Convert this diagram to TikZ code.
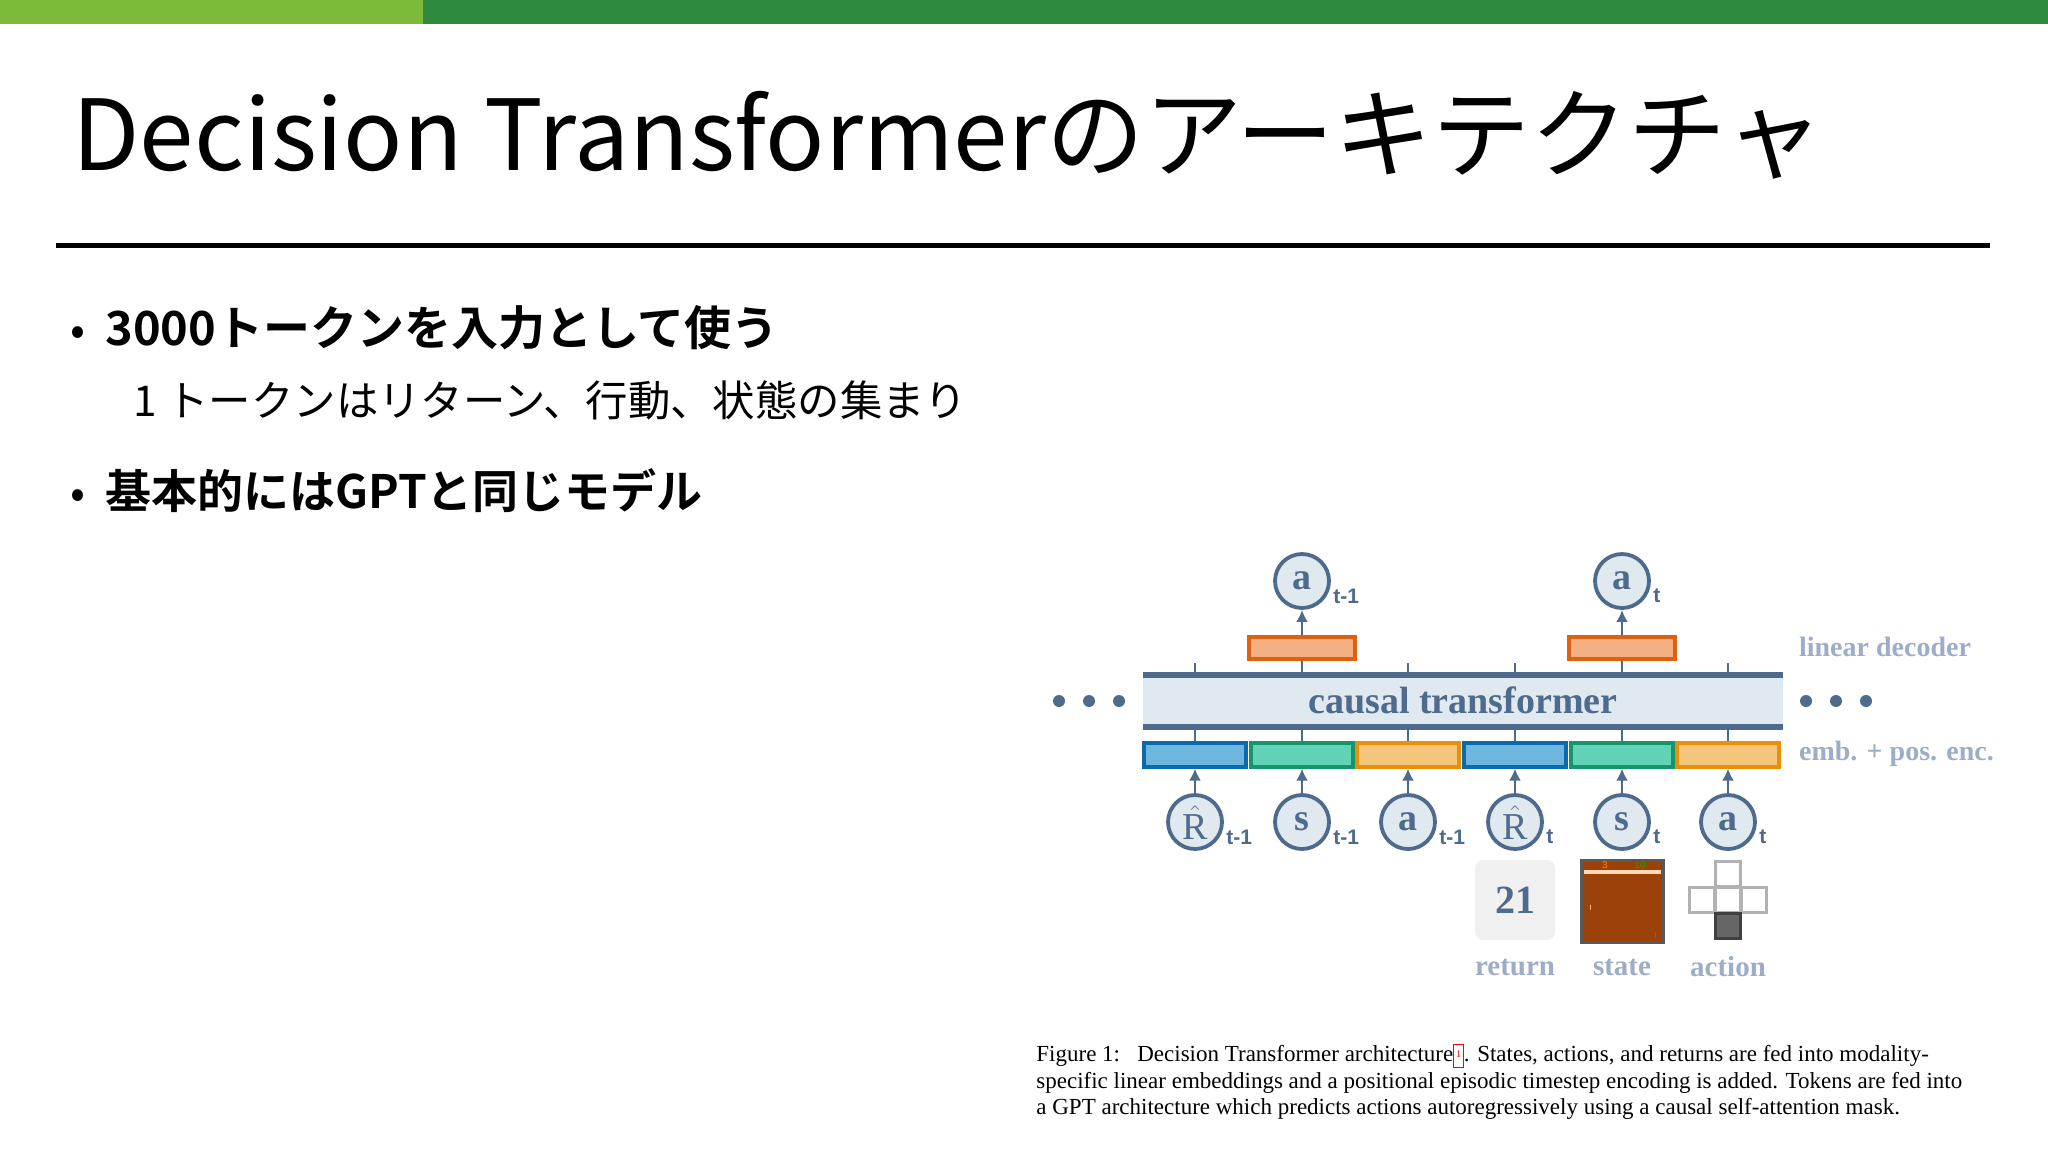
\documentclass[tikz,border=0pt]{standalone}
\usepackage{fontspec}
\setmainfont{Liberation Serif}
\newfontfamily\jp[BoldFont={Noto Sans CJK JP Bold}]{Noto Sans CJK JP}
\newfontfamily\subf{Liberation Sans}
\usetikzlibrary{arrows.meta}
\definecolor{lgreen}{HTML}{7DB93A}
\definecolor{dgreen}{HTML}{2E8B3E}
\definecolor{navy}{HTML}{4E6A8C}
\definecolor{tfill}{HTML}{E0E8F0}
\definecolor{lbl}{HTML}{9DADC8}
\definecolor{brn}{HTML}{9A420A}
\definecolor{bfill}{HTML}{6DB6DE}\definecolor{bdraw}{HTML}{0B6AAB}
\definecolor{gfill}{HTML}{62D2B6}\definecolor{gdraw}{HTML}{16956A}
\definecolor{ofill}{HTML}{F4C67C}\definecolor{odraw}{HTML}{E8900A}
\definecolor{rfill}{HTML}{F2B083}\definecolor{rdraw}{HTML}{E0600F}
\tikzset{
 circ/.style={circle,draw=navy,fill=tfill,line width=1.9pt,minimum size=27pt,inner sep=0pt,text=navy,font=\bfseries\fontsize{19}{19}\selectfont},
 sub/.style={text=navy,font=\subf\bfseries\fontsize{10.5}{10.5}\selectfont,anchor=west,inner sep=0pt},
 emb/.style={draw=#1draw,fill=#1fill,line width=1.6pt,minimum width=51pt,minimum height=12pt,inner sep=0pt},
 dec/.style={draw=rdraw,fill=rfill,line width=1.6pt,minimum width=53pt,minimum height=11pt,inner sep=0pt},
 arr/.style={navy,line width=1.4pt,-{Latex[length=6pt,width=6pt]}},
 tick/.style={navy,line width=1.4pt},
 lab/.style={text=lbl,font=\bfseries\fontsize{14}{14}\selectfont,anchor=west},
 btm/.style={text=lbl,font=\bfseries\fontsize{14.5}{14.5}\selectfont},
 sq/.style={draw=gray!60,line width=1.6pt,minimum size=12.5pt,inner sep=0pt}
}
\begin{document}
\begin{tikzpicture}[x=0.5pt,y=-0.5pt]
\useasboundingbox (0,0) rectangle (2048,1152);
\fill[white] (0,0) rectangle (2048,1152);
\fill[lgreen] (0,0) rectangle (423,24);
\fill[dgreen] (423,0) rectangle (2048,24);
\node[anchor=base west,inner sep=0pt,font=\jp\fontsize{49}{49}\selectfont] (title) at (72,170) {Decision Transformerのアーキテクチャ};
\draw[line width=2.5pt] (56,245) -- (1990,245);
\node[anchor=base west,inner sep=0pt,font=\jp\fontsize{22}{22}\selectfont] (b1) at (70,345) {•};
\node[anchor=base west,inner sep=0pt,font=\jp\bfseries\fontsize{23.5}{23.5}\selectfont] (t1) at (105,345) {3000トークンを入力として使う};
\node[anchor=base west,inner sep=0pt,font=\jp\fontsize{21.2}{21.2}\selectfont] (t2) at (133,416) {1 トークンはリターン、行動、状態の集まり};
\node[anchor=base west,inner sep=0pt,font=\jp\fontsize{22}{22}\selectfont] (b2) at (70,508) {•};
\node[anchor=base west,inner sep=0pt,font=\jp\bfseries\fontsize{23}{23}\selectfont] (t3) at (105,508) {基本的にはGPTと同じモデル};

% transformer
\fill[tfill] (1143,675) rectangle (1783,727);
\draw[navy,line width=2.8pt] (1143,675) -- (1783,675);
\draw[navy,line width=2.8pt] (1143,727) -- (1783,727);
\node[text=navy,font=\bfseries\fontsize{19}{19}\selectfont] (tr) at (1463,700) {causal transformer};
\foreach \x in {1059,1089,1119}{\fill[navy] (\x,701) circle (3pt);}
\foreach \x in {1806,1836,1866}{\fill[navy] (\x,701) circle (3pt);}

% embeddings
\node[emb=b] (e1) at (1195,755) {};
\node[emb=g] (e2) at (1302,755) {};
\node[emb=o] (e3) at (1408,755) {};
\node[emb=b] (e4) at (1515,755) {};
\node[emb=g] (e5) at (1622,755) {};
\node[emb=o] (e6) at (1728,755) {};
\foreach \x in {1195,1302,1408,1515,1622,1728}{\draw[tick] (\x,727) -- (\x,741);}
\foreach \x in {1195,1408,1515,1728}{\draw[tick] (\x,663) -- (\x,675);}

% inputs
\node[circ] (r1) at (1195,822) {$\hat{\mathrm{R}}$};
\node[circ] (s1) at (1302,822) {s};
\node[circ] (a1) at (1408,822) {a};
\node[circ] (r2) at (1515,822) {$\hat{\mathrm{R}}$};
\node[circ] (s2) at (1622,822) {s};
\node[circ] (a2) at (1728,822) {a};
\node[sub] at (1226,837) {t-1};
\node[sub] at (1333,837) {t-1};
\node[sub] at (1439,837) {t-1};
\node[sub] at (1546,837) {t};
\node[sub] at (1653,837) {t};
\node[sub] at (1759,837) {t};
\draw[arr] (r1) -- (e1);
\draw[arr] (s1) -- (e2);
\draw[arr] (a1) -- (e3);
\draw[arr] (r2) -- (e4);
\draw[arr] (s2) -- (e5);
\draw[arr] (a2) -- (e6);

% decoders / outputs
\node[dec] (d1) at (1302,648) {};
\node[dec] (d2) at (1622,648) {};
\draw[tick] (d1) -- (1302,675);
\draw[tick] (d2) -- (1622,675);
\node[circ] (o1) at (1302,581) {a};
\node[circ] (o2) at (1622,581) {a};
\node[sub] at (1333,596) {t-1};
\node[sub] at (1653,596) {t};
\draw[arr] (d1) -- (o1);
\draw[arr] (d2) -- (o2);

\node[lab] (ld) at (1792,647) {linear decoder};
\node[lab] (le) at (1792,754) {emb. + pos. enc.};

% return / state / action
\node[fill=gray!12,rounded corners=4pt,minimum width=40pt,minimum height=40pt,text=navy,font=\bfseries\fontsize{20}{20}\selectfont] (ret) at (1515,900) {21};
\node[draw=gray!70!black,line width=1.5pt,fill=brn,minimum width=41pt,minimum height=41pt] (st) at (1622,901) {};
\fill[orange!30!white] (1584,870) rectangle (1661,874);
\node[text=orange,font=\subf\fontsize{5}{5}\selectfont] (sc1) at (1605,865) {3};
\node[text=green!70!black,font=\subf\fontsize{5}{5}\selectfont] (sc2) at (1640,865) {10};
\draw[orange!60] (1590,905) -- (1590,910);
\draw[green!70!black] (1655,932) -- (1655,938);
\node[sq] (c0) at (1728,874) {};
\node[sq] (cl) at (1702,900) {};
\node[sq] (cc) at (1728,900) {};
\node[sq] (cr) at (1754,900) {};
\node[sq,draw=black!75,fill=black!60] (cb) at (1728,926) {};
\node[btm] (lr) at (1515,967) {return};
\node[btm] (ls) at (1622,967) {state};
\node[btm] (la) at (1728,967) {action};

% caption
\begin{scope}[every node/.style={anchor=base west,inner sep=0pt,font=\fontsize{11.5}{11.5}\selectfont}]
\node (c1) at (1036,1061) {Figure 1:\enspace\ Decision Transformer architecture\textcolor{red}{\fbox{\kern-2pt\raisebox{2pt}{\tiny 1}\kern-2pt}}. States, actions, and returns are fed into modality-};
\node (c2) at (1036,1088) {specific linear embeddings and a positional episodic timestep encoding is added. Tokens are fed into};
\node (c3) at (1036,1114) {a GPT architecture which predicts actions autoregressively using a causal self-attention mask.};
\end{scope}
\end{tikzpicture}
\end{document}
